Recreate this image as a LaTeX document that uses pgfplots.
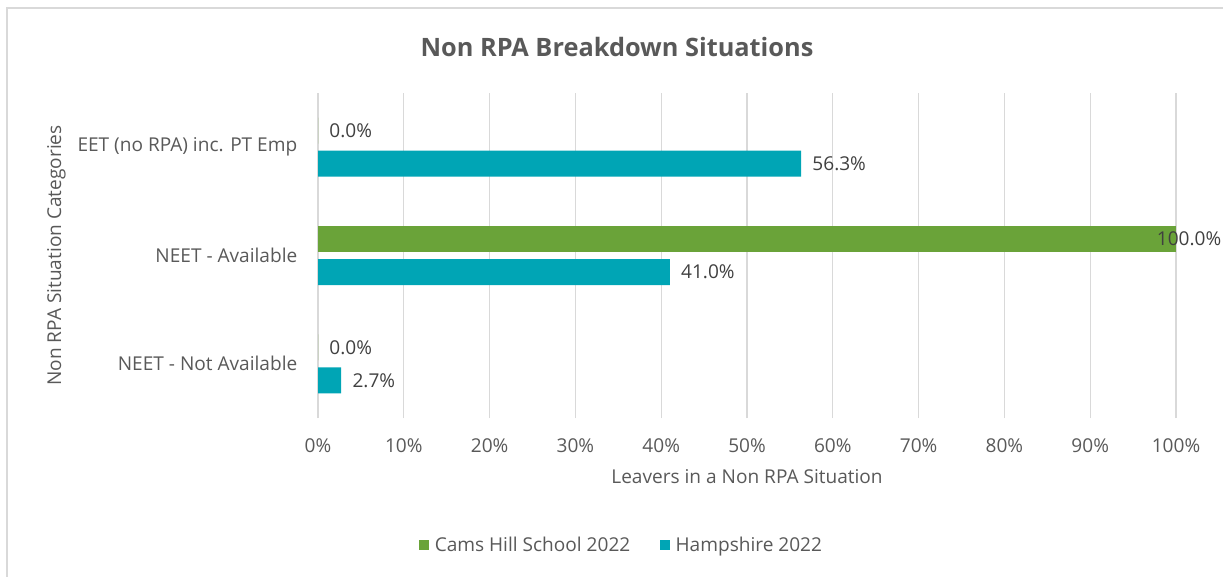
\documentclass[border=0pt]{standalone}
\usepackage{pgfplots}
\pgfplotsset{compat=1.18}
\usepackage{fontspec}
\setmainfont{Open Sans}
\definecolor{cgreen}{HTML}{6AA339}
\definecolor{cteal}{HTML}{00A5B5}
\definecolor{txt}{HTML}{595959}
\definecolor{lbl}{HTML}{404040}
\definecolor{gridc}{HTML}{D9D9D9}
\newcommand{\fs}{\fontsize{14.3}{17}\selectfont}
\begin{document}
\begin{tikzpicture}
\useasboundingbox (0pt,0pt) rectangle (917.25pt,432pt);
\draw[gridc, line width=1.2pt] (5.25pt,-20pt) -- (5.25pt,426pt) -- (940pt,426pt);
\node[font=\bfseries\fontsize{19}{22}\selectfont, text=txt] at (462.75pt,396.75pt) {Non RPA Breakdown Situations};
\begin{axis}[
  at={(238.5pt,118.5pt)}, anchor=south west,
  scale only axis, width=643.5pt, height=243.75pt,
  xbar, bar width=19.5pt,
  xmin=0, xmax=100, ymin=-0.5, ymax=2.5,
  xtick={0,10,...,100},
  xticklabel={\pgfmathprintnumber{\tick}\%},
  ytick={0,1,2},
  yticklabels={NEET - Not Available, NEET - Available, EET (no RPA) inc. PT Emp},
  /pgf/number format/assume math mode=true,
  axis line style={draw=none},
  major tick length=0pt,
  xmajorgrids, grid style={gridc, line width=0.9pt},
  tick label style={font=\fs, text=txt},
  xticklabel style={yshift=-12pt},
  yticklabel style={xshift=-12pt},
  label style={font=\fs, text=txt},
  xlabel={Leavers in a Non RPA Situation},
  xlabel style={yshift=-6pt},
  ylabel={Non RPA Situation Categories},
  ylabel style={yshift=2pt},
  point meta=x,
  legend style={at={(0.354,-0.39)}, anchor=center, draw=none, legend columns=2,
    font=\fs, text=txt,
    /tikz/every odd column/.append style={column sep=2.5pt},
    /tikz/every even column/.append style={column sep=20pt}},
  legend image code/.code={\fill[#1] (0pt,-3.75pt) rectangle (7.5pt,3.75pt);},
]
\addplot[fill=cgreen, draw=none, bar shift=12.4pt,
  nodes near coords={\pgfmathprintnumber[fixed,fixed zerofill,precision=1]{\pgfplotspointmeta}\%},
  every node near coord/.append style={font=\fs, text=lbl, anchor=west, xshift=5pt}] coordinates {(0,2) (0,0)};
\addlegendentry{Cams Hill School 2022}
\addplot[fill=cteal, draw=none, bar shift=-12.4pt,
  nodes near coords={\pgfmathprintnumber[fixed,fixed zerofill,precision=1]{\pgfplotspointmeta}\%},
  every node near coord/.append style={font=\fs, text=lbl, anchor=west, xshift=5pt}] coordinates {(56.3,2) (41.0,1) (2.7,0)};
\addlegendentry{Hampshire 2022}
\addplot[fill=cgreen, draw=none, bar shift=12.4pt, forget plot,
  nodes near coords={\pgfmathprintnumber[fixed,fixed zerofill,precision=1]{\pgfplotspointmeta}\%},
  every node near coord/.append style={font=\fs, text=lbl, anchor=east, xshift=37.5pt}] coordinates {(100,1)};
\end{axis}
\end{tikzpicture}
\end{document}
